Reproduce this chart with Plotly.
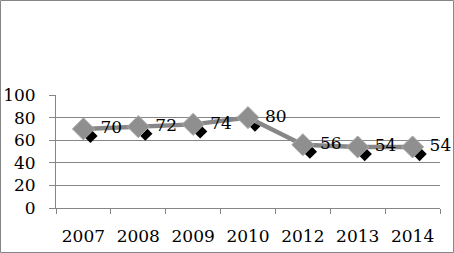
import plotly.graph_objects as go

years = ["2007", "2008", "2009", "2010", "2012", "2013", "2014"]
values = [70, 72, 74, 80, 56, 54, 54]

W, H = 454, 253
ml, mr, mt, mb = 56, 14, 95, 45
pw, ph = W - ml - mr, H - mt - mb

idx = list(range(len(years)))
xr = [-0.5, len(years) - 0.5]
yr = [0, 100]
dx = 7 * (xr[1] - xr[0]) / pw
dy = 7 * (yr[1] - yr[0]) / ph

font = dict(family="DejaVu Serif", size=17, color="black")

fig = go.Figure()
# anchor trace for the visible axes (invisible marks)
fig.add_trace(go.Scatter(
    x=years, y=values, mode="markers", xaxis="x", yaxis="y",
    marker=dict(size=1, opacity=0), showlegend=False, hoverinfo="skip"))
# shadow
fig.add_trace(go.Scatter(
    x=idx, y=values, mode="markers", xaxis="x2", yaxis="y2",
    marker=dict(symbol="diamond", size=11, color="black"),
    cliponaxis=False, showlegend=False, hoverinfo="skip"))
# main
fig.add_trace(go.Scatter(
    x=idx, y=values, mode="lines+markers+text", xaxis="x3", yaxis="y3",
    line=dict(color="#878787", width=4.5),
    marker=dict(symbol="diamond", size=17, color="#8f8f8f",
                line=dict(color="#ababab", width=1)),
    texttemplate=" %{y}", textposition="middle right", textfont=font,
    cliponaxis=False, showlegend=False))

fig.update_layout(
    width=W, height=H,
    margin=dict(l=ml, r=mr, t=mt, b=mb, autoexpand=False),
    paper_bgcolor="white", plot_bgcolor="white",
    font=font,
    xaxis=dict(type="category", categoryorder="array", categoryarray=years,
               range=xr, showgrid=False, showline=True, linecolor="#868686",
               linewidth=1, ticks="outside", tickson="boundaries", ticklen=5,
               tickcolor="#868686", tickfont=font, zeroline=False,
               tickangle=0, automargin=False, ticklabelstandoff=13),
    yaxis=dict(range=yr, tickvals=[0, 20, 40, 60, 80, 100],
               showgrid=True, gridcolor="#868686", gridwidth=1,
               showline=True, linecolor="#868686", linewidth=1,
               ticks="outside", ticklen=6, tickcolor="#868686",
               tickfont=font, zeroline=False, automargin=False,
               ticklabelstandoff=10),
    xaxis2=dict(type="linear", overlaying="x",
                range=[xr[0] - dx, xr[1] - dx], visible=False),
    yaxis2=dict(overlaying="y", range=[yr[0] + dy, yr[1] + dy], visible=False),
    xaxis3=dict(type="linear", overlaying="x", range=xr, visible=False),
    yaxis3=dict(overlaying="y", range=yr, visible=False),
    shapes=[dict(type="rect", xref="paper", yref="paper",
                 x0=-(ml - 0.5) / pw, x1=(pw + mr - 0.5) / pw,
                 y0=-(mb - 0.5) / ph, y1=(ph + mt - 0.5) / ph,
                 line=dict(color="#868686", width=1), fillcolor="rgba(0,0,0,0)")],
)

fig.write_html("out.html")
